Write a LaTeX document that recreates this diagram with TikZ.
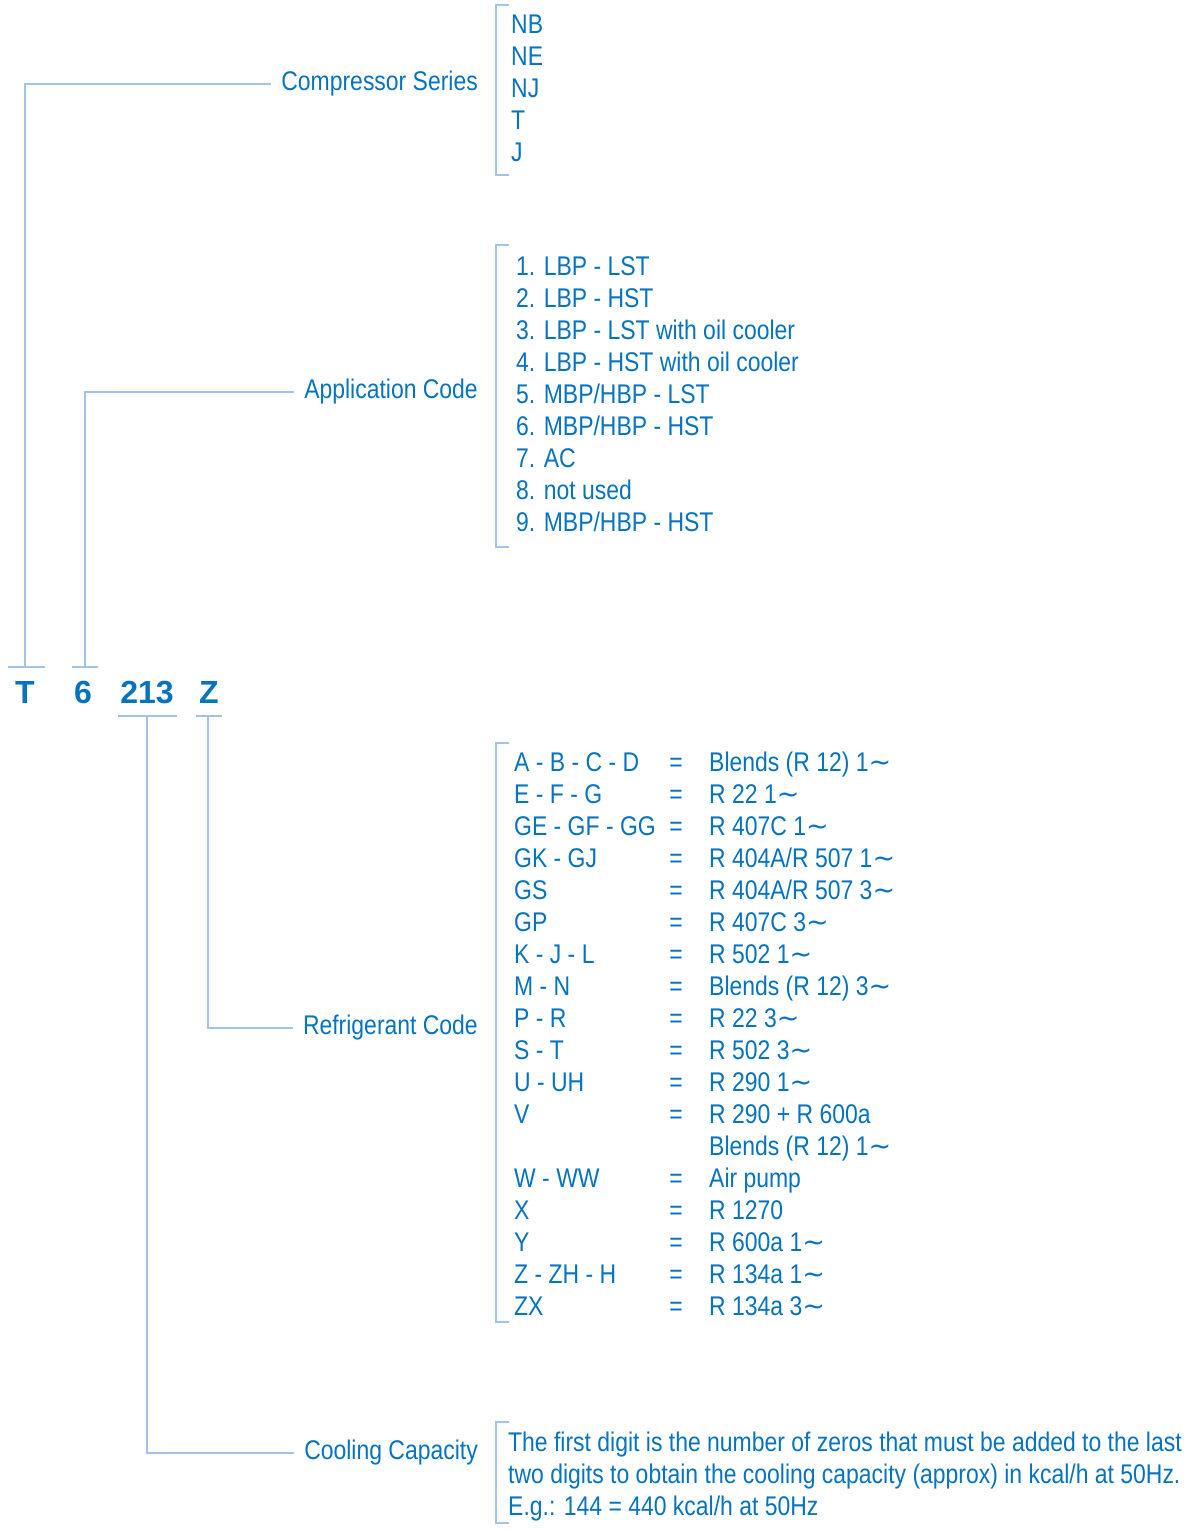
\documentclass[tikz,border=0pt]{standalone}
\usepackage{fontspec}
\setmainfont{Liberation Sans}[FakeStretch=0.85]
\newfontfamily\codefont{Liberation Sans}
\newfontfamily\symfont{DejaVu Sans}
\newcommand\ac{{\symfont ∼}}
\definecolor{codeblue}{HTML}{0573BE}
\definecolor{lineblue}{HTML}{A0C3E6}
\tikzset{
  link/.style={draw=lineblue,line width=1.5pt},
  lbl/.style={text=codeblue,inner sep=0pt,font=\fontsize{27}{32}\selectfont},
  item/.style={lbl,anchor=base west},
  letter/.style={text=codeblue,inner sep=0pt,anchor=base,
    font=\codefont\bfseries\fontsize{32}{32}\selectfont}
}
\begin{document}
\begin{tikzpicture}[x=1pt,y=-1pt]
\useasboundingbox (0,0) rectangle (1192,1529);

% the code letters
\node[letter] (T) at (25,703) {T};
\node[letter] (six) at (83,703) {6};
\node[letter] (cap) at (147,703) {213};
\node[letter] (Z) at (209,703) {Z};

% labels
\node[lbl,anchor=east] (cs) at (478,84) {Compressor Series};
\node[lbl,anchor=east] (ac) at (478,392) {Application Code};
\node[lbl,anchor=east] (rc) at (478,1028) {Refrigerant Code};
\node[lbl,anchor=east] (cc) at (478,1453) {Cooling Capacity};

% ticks over and under the letters
\coordinate (T-tick) at (25,667);
\coordinate (six-tick) at (85,667);
\coordinate (cap-tick) at (147,716);
\coordinate (Z-tick) at (208,716);
\draw[link] (8,667) -- (45,667);
\draw[link] (72,667) -- (98,667);
\draw[link] (118,716) -- (177,716);
\draw[link] (196,716) -- (222,716);

% connectors
\draw[link] (T-tick) |- ([xshift=-10pt]cs.west);
\draw[link] (six-tick) |- ([xshift=-10pt]ac.west);
\draw[link] (Z-tick) |- ([xshift=-10pt]rc.west);
\draw[link] (cap-tick) |- ([xshift=-10pt]cc.west);

% brackets
\draw[link] (509,5) -- (496,5) -- (496,175) -- (509,175);
\draw[link] (509,245) -- (496,245) -- (496,547) -- (509,547);
\draw[link] (509,743) -- (496,743) -- (496,1322) -- (509,1322);
\draw[link] (509,1422) -- (496,1422) -- (496,1523) -- (509,1523);

% compressor series
\foreach \t [count=\i] in {NB,NE,NJ,T,J}
  \node[item] (ser-\i) at (511,1+32*\i) {\t};

% application code
\foreach \t [count=\i] in {1. LBP - LST,2. LBP - HST,
    3. LBP - LST with oil cooler,4. LBP - HST with oil cooler,
    5. MBP/HBP - LST,6. MBP/HBP - HST,7. AC,8. not used,
    9. MBP/HBP - HST}
  \node[item] (app-\i) at (516,243+32*\i) {\t};

% refrigerant code
\foreach \lt/\eq/\rt [count=\i] in {
    A - B - C - D/=/Blends (R 12) 1\ac,
    E - F - G/=/R 22 1\ac,
    GE - GF - GG/=/R 407C 1\ac,
    GK - GJ/=/{R 404A/R 507 1\ac},
    GS/=/{R 404A/R 507 3\ac},
    GP/=/R 407C 3\ac,
    K - J - L/=/R 502 1\ac,
    M - N/=/Blends (R 12) 3\ac,
    P - R/=/R 22 3\ac,
    S - T/=/R 502 3\ac,
    U - UH/=/R 290 1\ac,
    V/=/R 290 + R 600a,
    {}/{}/Blends (R 12) 1\ac,
    W - WW/=/Air pump,
    X/=/R 1270,
    Y/=/R 600a 1\ac,
    Z - ZH - H/=/R 134a 1\ac,
    ZX/=/R 134a 3\ac}{
  \node[item] (ref-l-\i) at (514,739+32*\i) {\lt};
  \node[lbl,anchor=base] (ref-e-\i) at (676,739+32*\i) {\eq};
  \node[item] (ref-r-\i) at (709,739+32*\i) {\rt};
}

% cooling capacity
\node[item] (cool-1) at (508,1451)
  {The first digit is the number of zeros that must be added to the last};
\node[item] (cool-2) at (508,1483)
  {two digits to obtain the cooling capacity (approx) in kcal/h at 50Hz.};
\node[item] (cool-3) at (508,1515) {E.g.: 144 = 440 kcal/h at 50Hz};
\end{tikzpicture}
\end{document}
